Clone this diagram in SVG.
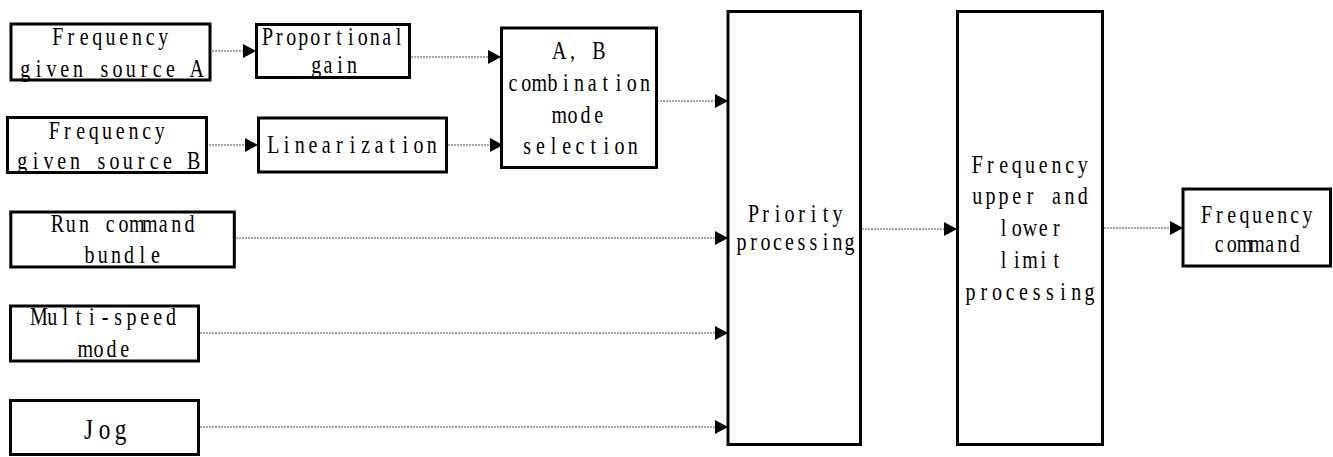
<svg xmlns="http://www.w3.org/2000/svg" width="1333" height="457" viewBox="0 0 1333 457">
<style>
.box{fill:#fff;stroke:#000;stroke-width:3}
.t{font-family:"Liberation Serif","Times New Roman",serif;font-size:25px;fill:#000;text-anchor:middle}
.big{font-size:29px}
.c{stroke:#555;stroke-width:1;stroke-dasharray:2 1;fill:none;marker-end:url(#ah)}
</style>
<defs>
<marker id="ah" markerUnits="userSpaceOnUse" markerWidth="14" markerHeight="14" refX="13" refY="7" orient="auto">
<path d="M0,0 L13,7 L0,14 Z" fill="#000"/>
</marker>
</defs>
<rect width="1333" height="457" fill="#fff"/>
<g id="connectors">
<line class="c" x1="200" y1="51" x2="256" y2="51"/>
<line class="c" x1="197" y1="145" x2="258" y2="145"/>
<line class="c" x1="411" y1="57" x2="501" y2="57"/>
<line class="c" x1="448" y1="145" x2="503" y2="145"/>
<line class="c" x1="651" y1="101" x2="728" y2="101"/>
<line class="c" x1="236" y1="238" x2="728" y2="238"/>
<line class="c" x1="200" y1="333" x2="728" y2="333"/>
<line class="c" x1="200" y1="427" x2="728" y2="427"/>
<line class="c" x1="838" y1="229" x2="957" y2="229"/>
<line class="c" x1="1104" y1="228" x2="1183" y2="228"/>
</g>
<g id="srcA">
<rect class="box" x="11" y="24" width="199" height="56"/>
<text class="t" transform="translate(110.5,45) scale(0.8,1)" x="-66 -49.5 -33 -16.5 0 16.5 33 49.5 66" y="0">Frequency</text>
<text class="t" transform="translate(111,77) scale(0.8,1)" x="-107.25 -90.75 -74.25 -57.75 -41.25 -24.75 -8.25 8.25 24.75 41.25 57.75 74.25 90.75 107.25" y="0">given source A</text>
</g>
<g id="propgain">
<rect class="box" x="256.5" y="24.5" width="153" height="53"/>
<text class="t" transform="translate(333,45) scale(0.8,1)" x="-81.95 -67.05 -52.15 -37.25 -22.35 -7.45 7.45 22.35 37.25 52.15 67.05 81.95" y="0">Proportional</text>
<text class="t" transform="translate(334,72.5) scale(0.8,1)" x="-22.35 -7.45 7.45 22.35" y="0">gain</text>
</g>
<g id="srcB">
<rect class="box" x="7.5" y="117.5" width="199" height="55"/>
<text class="t" transform="translate(107,138.5) scale(0.8,1)" x="-66 -49.5 -33 -16.5 0 16.5 33 49.5 66" y="0">Frequency</text>
<text class="t" transform="translate(108,168.5) scale(0.8,1)" x="-107.25 -90.75 -74.25 -57.75 -41.25 -24.75 -8.25 8.25 24.75 41.25 57.75 74.25 90.75 107.25" y="0">given source B</text>
</g>
<g id="linear">
<rect class="box" x="258.5" y="118" width="188" height="54"/>
<text class="t" transform="translate(352.5,153) scale(0.8,1)" x="-99 -82.5 -66 -49.5 -33 -16.5 0 16.5 33 49.5 66 82.5 99" y="0">Linearization</text>
</g>
<g id="abmode">
<rect class="box" x="501.5" y="28" width="155" height="139.5"/>
<text class="t" transform="translate(579,59) scale(0.8,1)" x="-24.75 -8.25 8.25 24.75" y="0">A, B</text>
<text class="t" transform="translate(579,90.5) scale(0.8,1)" x="-82.5 -66 -49.5 -33 -16.5 0 16.5 33 49.5 66 82.5" y="0">combination</text>
<text class="t" transform="translate(579,122.5) scale(0.8,1)" x="-24.75 -8.25 8.25 24.75" y="0">mode</text>
<text class="t" transform="translate(580,154) scale(0.8,1)" x="-66 -49.5 -33 -16.5 0 16.5 33 49.5 66" y="0">selection</text>
</g>
<g id="runcmd">
<rect class="box" x="10.8" y="212" width="223.5" height="55"/>
<text class="t" transform="translate(123.5,231.5) scale(0.8,1)" x="-82.5 -66 -49.5 -33 -16.5 0 16.5 33 49.5 66 82.5" y="0">Run command</text>
<text class="t" transform="translate(122.5,262.5) scale(0.8,1)" x="-41.25 -24.75 -8.25 8.25 24.75 41.25" y="0">bundle</text>
</g>
<g id="multispeed">
<rect class="box" x="10.5" y="306" width="188" height="55"/>
<text class="t" transform="translate(105,325) scale(0.8,1)" x="-82.5 -66 -49.5 -33 -16.5 0 16.5 33 49.5 66 82.5" y="0">Multi-speed</text>
<text class="t" transform="translate(105,356.5) scale(0.8,1)" x="-24.75 -8.25 8.25 24.75" y="0">mode</text>
</g>
<g id="jog">
<rect class="box" x="10.5" y="400.5" width="188" height="54"/>
<text class="t big" transform="translate(104.5,439) scale(0.8,1)" x="-20 0 20" y="0">Jog</text>
</g>
<g id="priority">
<rect class="box" x="728" y="11.5" width="132.5" height="433"/>
<text class="t" transform="translate(795.5,221.5) scale(0.8,1)" x="-52.5 -37.5 -22.5 -7.5 7.5 22.5 37.5 52.5" y="0">Priority</text>
<text class="t" transform="translate(795.5,249.5) scale(0.8,1)" x="-67.5 -52.5 -37.5 -22.5 -7.5 7.5 22.5 37.5 52.5 67.5" y="0">processing</text>
</g>
<g id="limit">
<rect class="box" x="957.5" y="11.5" width="145" height="433"/>
<text class="t" transform="translate(1030,173) scale(0.8,1)" x="-66 -49.5 -33 -16.5 0 16.5 33 49.5 66" y="0">Frequency</text>
<text class="t" transform="translate(1030,204) scale(0.8,1)" x="-66 -49.5 -33 -16.5 0 16.5 33 49.5 66" y="0">upper and</text>
<text class="t" transform="translate(1030,235.5) scale(0.8,1)" x="-33 -16.5 0 16.5 33" y="0">lower</text>
<text class="t" transform="translate(1030,268) scale(0.8,1)" x="-33 -16.5 0 16.5 33" y="0">limit</text>
<text class="t" transform="translate(1030,300) scale(0.8,1)" x="-74.25 -57.75 -41.25 -24.75 -8.25 8.25 24.75 41.25 57.75 74.25" y="0">processing</text>
</g>
<g id="freqcmd">
<rect class="box" x="1183" y="189" width="147.5" height="77"/>
<text class="t" transform="translate(1257,223) scale(0.8,1)" x="-63 -47.25 -31.5 -15.75 0 15.75 31.5 47.25 63" y="0">Frequency</text>
<text class="t" transform="translate(1257,251.5) scale(0.8,1)" x="-47.25 -31.5 -15.75 0 15.75 31.5 47.25" y="0">command</text>
</g>
</svg>
